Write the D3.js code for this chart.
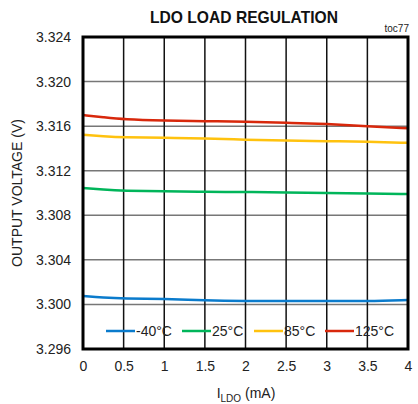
<!DOCTYPE html>
<html>
<head>
<meta charset="utf-8">
<script src="https://cdn.jsdelivr.net/npm/d3@7"></script>
<style>
  body { margin: 0; background: #fff; }
  svg { font-family: "Liberation Sans", Arial, sans-serif; }
</style>
</head>
<body>
<svg id="chart" width="418" height="404"></svg>
<script>
const currents = [0, 0.25, 0.5, 1, 1.5, 2, 2.5, 3, 3.5, 4];
const vNeg40 = [3.30075, 3.3006, 3.30052, 3.3005, 3.30035, 3.3003, 3.3003, 3.3003, 3.3003, 3.3004];
const v25 = [3.31044, 3.3103, 3.3102, 3.31015, 3.3101, 3.3101, 3.31005, 3.3100, 3.30995, 3.3099];
const v85 = [3.31522, 3.3151, 3.3150, 3.31495, 3.3149, 3.31478, 3.3147, 3.31465, 3.3146, 3.3145];
const v125 = [3.31699, 3.3168, 3.3166, 3.3165, 3.31645, 3.3164, 3.3163, 3.3162, 3.3160, 3.3158];
const seriesNames = ['-40°C', '25°C', '85°C', '125°C'];
const seriesColors = ['#0a7bcc', '#00b55a', '#ffc20e', '#d8280c'];
const xTicks = [0, 0.5, 1, 1.5, 2, 2.5, 3, 3.5, 4];
const yTicks = [3.296, 3.300, 3.304, 3.308, 3.312, 3.316, 3.320, 3.324];

const series = [vNeg40, v25, v85, v125].map((vals, i) => ({
  name: seriesNames[i],
  color: seriesColors[i],
  values: vals.map((v, j) => ({ x: currents[j], y: v }))
}));

const margin = { top: 37, right: 10, bottom: 55, left: 83 };
const width = 418 - margin.left - margin.right;
const height = 404 - margin.top - margin.bottom;

const svg = d3.select('#chart');
const g = svg.append('g').attr('transform', `translate(${margin.left},${margin.top})`);

const x = d3.scaleLinear().domain([0, 4]).range([0, width]);
const y = d3.scaleLinear().domain([3.296, 3.324]).range([height, 0]);

// grid
g.append('g').selectAll('line')
  .data(yTicks.slice(1, -1))
  .enter().append('line')
  .attr('x1', 0).attr('x2', width)
  .attr('y1', d => y(d)).attr('y2', d => y(d))
  .attr('stroke', '#777').attr('stroke-width', 1.5);

g.append('g').selectAll('line')
  .data(xTicks.slice(1, -1))
  .enter().append('line')
  .attr('y1', 0).attr('y2', height)
  .attr('x1', d => x(d)).attr('x2', d => x(d))
  .attr('stroke', '#111').attr('stroke-width', 1.5);

// axes labels
const yAxis = g.append('g')
  .call(d3.axisLeft(y).tickValues(yTicks).tickFormat(d3.format('.3f')).tickSize(0).tickPadding(12));
yAxis.select('.domain').remove();
yAxis.selectAll('text').attr('font-size', 14).attr('fill', '#222').attr('font-family', '"Liberation Sans", Arial, sans-serif');

const xAxis = g.append('g')
  .attr('transform', `translate(0,${height})`)
  .call(d3.axisBottom(x).tickValues(xTicks).tickFormat(d => d).tickSize(0).tickPadding(12));
xAxis.select('.domain').remove();
xAxis.selectAll('text').attr('font-size', 14).attr('fill', '#222').attr('font-family', '"Liberation Sans", Arial, sans-serif');

// lines
const line = d3.line()
  .x(d => x(d.x))
  .y(d => y(d.y))
  .curve(d3.curveBasis);

g.append('g').selectAll('path')
  .data(series)
  .enter().append('path')
  .attr('d', d => line(d.values))
  .attr('fill', 'none')
  .attr('stroke', d => d.color)
  .attr('stroke-width', 2.5);

// frame
g.append('rect')
  .attr('width', width).attr('height', height)
  .attr('fill', 'none').attr('stroke', '#000').attr('stroke-width', 3);

// legend
const legendX = [23, 99, 171, 242];
const legend = g.append('g').attr('transform', `translate(0,${331 - margin.top})`);
const items = legend.selectAll('g')
  .data(series)
  .enter().append('g')
  .attr('transform', (d, i) => `translate(${legendX[i]},0)`);
items.append('line')
  .attr('x1', 0).attr('x2', 29)
  .attr('stroke', d => d.color).attr('stroke-width', 2.5);
items.append('text')
  .attr('x', 30).attr('y', 5)
  .attr('font-size', 14).attr('fill', '#222')
  .text(d => d.name);

// titles
svg.append('text')
  .attr('x', 244).attr('y', 23)
  .attr('text-anchor', 'middle')
  .attr('font-weight', 'bold').attr('font-size', 17)
  .attr('textLength', 188).attr('lengthAdjust', 'spacingAndGlyphs')
  .attr('fill', '#111')
  .text('LDO LOAD REGULATION');

svg.append('text')
  .attr('x', 409).attr('y', 32)
  .attr('text-anchor', 'end')
  .attr('font-size', 10).attr('fill', '#222')
  .text('toc77');

svg.append('text')
  .attr('transform', `translate(22,${margin.top + height / 2}) rotate(-90)`)
  .attr('text-anchor', 'middle')
  .attr('font-size', 14).attr('fill', '#222')
  .text('OUTPUT VOLTAGE (V)');

const xTitle = svg.append('text')
  .attr('x', 246).attr('y', 398)
  .attr('text-anchor', 'middle')
  .attr('font-size', 14).attr('fill', '#222');
xTitle.append('tspan').text('I');
xTitle.append('tspan').attr('dy', 4).attr('font-size', 10).text('LDO');
xTitle.append('tspan').attr('dy', -4).text(' (mA)');
</script>
</body>
</html>
